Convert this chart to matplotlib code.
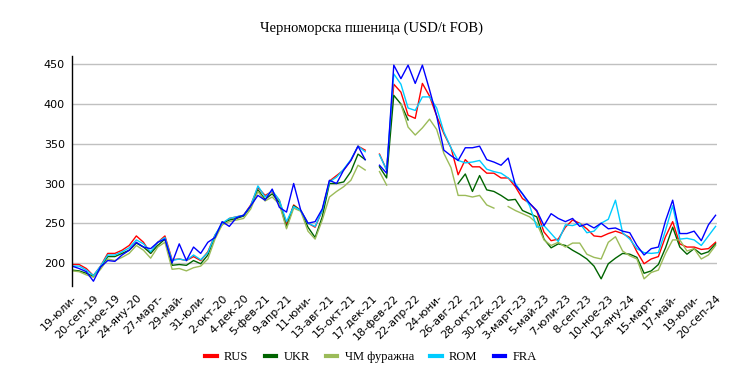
import numpy as np
import matplotlib.pyplot as plt

nan = np.nan

# weekly index (every 3rd week) from 19-Jul-2019 to 20-Sep-2024
weeks = np.arange(0, 271, 3)

rus = [198, 198, 193, 184, 196, 212, 212, 216, 222, 234,
       226, 212, 226, 234, 204, 205, 203, 208, 203, 214,
       235, 248, 256, 258, 260, 273, 295, 285, 290, 279,
       248, 273, 266, 250, 245, 266, 303, 310, 317, 329,
       347, 342, nan, 337, 317, 425, 415, 386, 382, 426,
       410, 385, 363, 345, 311, 330, 321, 321, 313, 313,
       307, 307, 296, 281, 275, 265, 239, 228, 230, 245,
       254, 250, 243, 234, 233, 237, 240, 237, 232, 214,
       199, 205, 208, 233, 252, 224, 220, 220, 217, 218,
       226]

ukr = [191, 190, 187, 183, 194, 208, 208, 212, 216, 225,
       220, 212, 222, 230, 197, 198, 197, 203, 199, 210,
       233, 250, 254, 256, 259, 271, 292, 280, 287, 276,
       245, 272, 266, 245, 232, 258, 300, 300, 302, 315,
       337, 330, nan, 321, 307, 411, 400, 380, nan, nan,
       nan, nan, nan, nan, 300, 312, 290, 310, 292, 290,
       285, 279, 280, 266, 262, 258, 230, 219, 224, 222,
       216, 211, 205, 196, 180, 199, 206, 212, 211, 207,
       187, 190, 198, 219, 245, 220, 211, 218, 211, 214,
       224]

chm = [190, 189, 185, 182, 192, 205, 203, 207, 212, 222,
       216, 206, 220, 226, 192, 193, 190, 194, 196, 205,
       230, 248, 252, 254, 256, 268, 290, 278, 283, 274,
       243, 269, 265, 240, 230, 254, 283, 290, 296, 304,
       323, 317, nan, 315, 298, nan, 400, 371, 361, 370,
       381, 368, 338, 320, 285, 285, 283, 285, 273, 269,
       nan, 271, 266, 262, 258, 250, 229, 222, 226, 220,
       225, 225, 211, 207, 205, 226, 233, 215, 209, 205,
       180, 188, 191, 212, 229, 229, 215, 218, 205, 210,
       222]

rom = [196, 196, 191, 184, 196, 210, 210, 214, 219, 229,
       224, 214, 226, 232, 203, 205, 203, 210, 204, 213,
       235, 250, 256, 258, 260, 272, 297, 283, 291, 279,
       252, 271, 266, 250, 246, 266, 302, 308, 318, 330,
       347, 340, nan, 336, 317, 438, 425, 395, 392, 409,
       409, 395, 365, 345, 329, 326, 327, 329, 318, 315,
       313, 307, 300, 287, 272, 245, 247, 237, 227, 248,
       247, 250, 238, 240, 250, 255, 279, 238, 230, 218,
       213, 212, 213, 241, 272, 230, 231, 229, 222, 234,
       246]

fra = [196, 193, 189, 177, 195, 203, 202, 210, 216, 226,
       220, 218, 226, 230, 200, 224, 203, 220, 212, 226,
       232, 252, 246, 257, 260, 272, 285, 279, 293, 270,
       264, 300, 266, 250, 252, 268, 304, 300, 317, 329,
       347, 330, nan, 323, 313, 449, 432, 449, 426, 449,
       418, 385, 342, 335, 329, 345, 345, 347, 330, 327,
       323, 332, 298, 287, 275, 266, 247, 262, 256, 252,
       256, 246, 249, 244, 250, 243, 244, 240, 238, 222,
       210, 218, 220, 253, 279, 237, 237, 240, 228, 248,
       260]

tick_labels = ["19-юли-", "20-сеп-19", "22-ное-19", "24-яну-20", "27-март-",
               "29-май-", "31-юли-", "2-окт-20", "4-дек-20", "5-фев-21",
               "9-апр-21", "11-юни-", "13-авг-21", "15-окт-21", "17-дек-21",
               "18-фев-22", "22-апр-22", "24-юни-", "26-авг-22", "28-окт-22",
               "30-дек-22", "3-март-23", "5-май-23", "7-юли-23", "8-сеп-23",
               "10-ное-23", "12-яну-24", "15-март-", "17-май-", "19-юли-",
               "20-сеп-24"]

series = [("RUS", rus, "#ff0000"),
          ("UKR", ukr, "#006400"),
          ("ЧМ фуражна", chm, "#9bbb59"),
          ("ROM", rom, "#00ccff"),
          ("FRA", fra, "#0000ff")]

fig = plt.figure(figsize=(7.42, 3.81), dpi=100)
ax = fig.add_axes([0.097, 0.249, 0.869, 0.604])

for name, vals, col in series:
    ax.plot(weeks, vals, color=col, lw=1.0, label=name)

ax.set_xlim(0, 270.5)
ax.set_ylim(170.8, 460.5)
ax.set_yticks([200, 250, 300, 350, 400, 450])
ax.set_xticks(np.arange(0, 271, 9))
ax.set_xticklabels(tick_labels, rotation=45, ha="right", rotation_mode="anchor",
                   fontsize=8, family="DejaVu Sans")
for lbl in ax.get_yticklabels():
    lbl.set_fontsize(8)
    lbl.set_family("DejaVu Sans")
ax.tick_params(length=0, pad=5)
ax.grid(axis="y", color="#c0c0c0", lw=1)
ax.set_axisbelow(True)
for s in ["top", "right", "bottom"]:
    ax.spines[s].set_visible(False)
ax.spines["left"].set_linewidth(1)

fig.text(0.5, 0.925, "Черноморска пшеница (USD/t FOB)", ha="center", va="center",
         fontsize=10.5, family="Liberation Serif")
fig.legend(loc="center", bbox_to_anchor=(0.5, 0.062), ncol=5, frameon=False,
           prop={"family": "Liberation Serif", "size": 9},
           handlelength=0.9, handletextpad=0.6, columnspacing=1.3)
for h in fig.legends[0].get_lines():
    h.set_linewidth(3)

fig.savefig("out.png", dpi=100)
